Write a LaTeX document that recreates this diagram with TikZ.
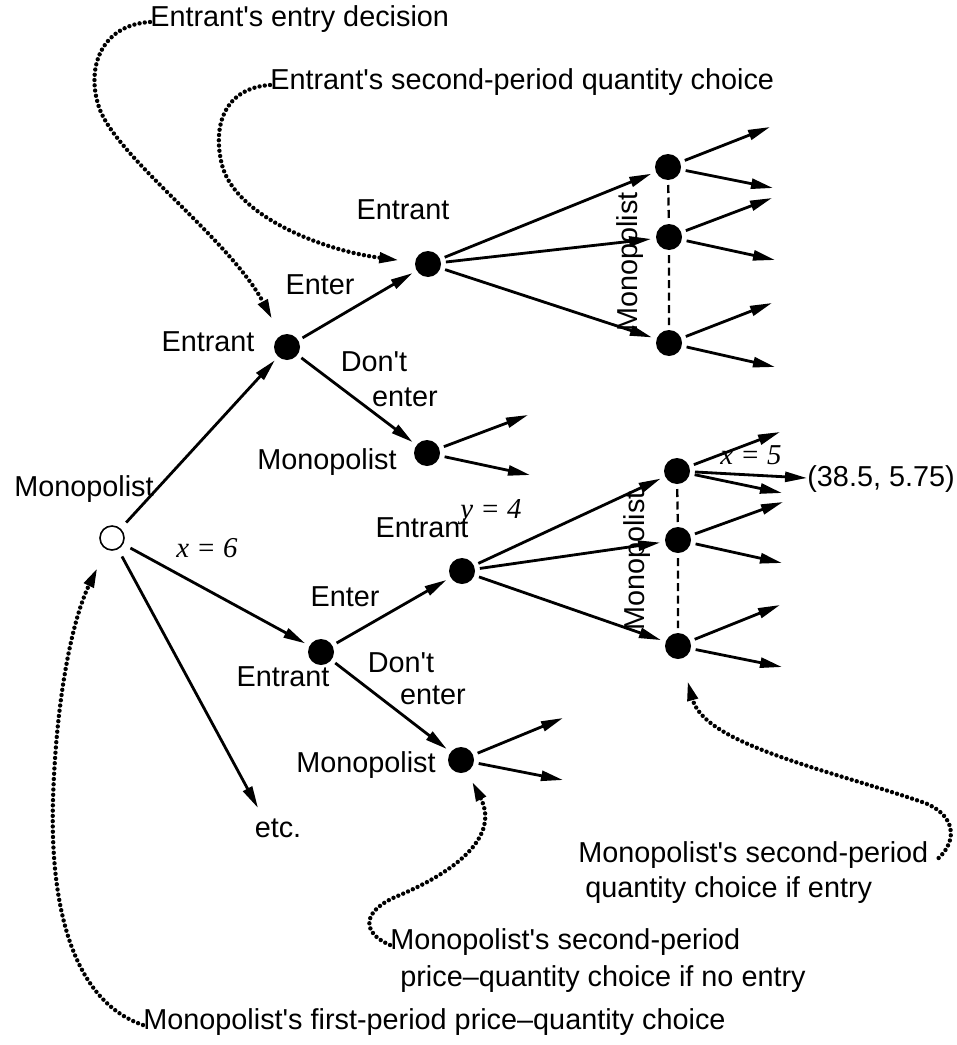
\documentclass[tikz,border=0pt]{standalone}
\usepackage{fontspec}
\setmainfont{Liberation Sans}[Ligatures=TeXOff]
\newfontfamily\timesfont{Liberation Serif}
\usetikzlibrary{arrows.meta}

\begin{document}
\begin{tikzpicture}[x=0.2mm, y=-0.2mm,
		lbl/.style={font=\fontsize{16.4pt}{19pt}\selectfont, inner sep=0pt, text height=0.72em, text depth=0.2em},
		dec/.style={circle, fill, minimum size=5.2mm, inner sep=0pt, outer sep=1mm},
		start/.style={circle, draw, line width=0.9pt, minimum size=4.8mm, inner sep=0pt, outer sep=1.8mm},
		move/.style={line width=1.6pt, -{Triangle[length=4.4mm,width=2mm]}},
		infoset/.style={line width=1.3pt, dash pattern=on 1.6mm off 0.9mm},
		note/.style={line width=2.5pt, line cap=round, dash pattern=on 0pt off 3pt, -{Triangle[length=4mm,width=2mm]}, shorten >=2.4mm}]
	\useasboundingbox (0,0) rectangle (957,1045);

	% decision nodes
	\node[start] (m0) at (112,538) {};
	\node[dec] (e1) at (287,347) {};
	\node[dec] (e2) at (428,264) {};
	\node[dec] (m1) at (427,453) {};
	\node[dec] (t1) at (668,167) {};
	\node[dec] (t2) at (669,237) {};
	\node[dec] (t3) at (669,343) {};
	\node[dec] (e3) at (321,652) {};
	\node[dec] (e4) at (462,571) {};
	\node[dec] (m2) at (461,760) {};
	\node[dec] (b1) at (677,471) {};
	\node[dec] (b2) at (678,540) {};
	\node[dec] (b3) at (678,646) {};

	% moves
	\draw[move] (m0) -- (e1);
	\draw[move] (m0) -- (e3);
	\draw[move] (e1) -- (e2);
	\draw[move] (e1) -- (m1);
	\draw[move] (e3) -- (e4);
	\draw[move] (e3) -- (m2);
	\foreach \n in {t1,t2,t3} \draw[move] (e2) -- (\n);
	\foreach \n in {b1,b2,b3} \draw[move] (e4) -- (\n);
	\draw[infoset] (t1) -- (t2) -- (t3);
	\draw[infoset] (b1) -- (b2) -- (b3);

	% loose ends
	\foreach \src/\tx/\ty [count=\i] in {m0/258/808, m1/528/415, m1/530/475, m2/563/718, m2/563/780,
			t1/770/127, t1/773/188, t2/772/198, t2/775/260, t3/772/303, t3/775/367,
			b1/780/432, b1/782/493, b2/783/502, b2/782/563, b3/780/605, b3/782/667} {
		\coordinate (end\i) at (\tx,\ty);
		\draw[move] (\src) -- (end\i);
	}
	\node[lbl, anchor=west] (pay) at (807,482) {(38.5, 5.75)};
	\draw[move] (b1) -- (pay);

	% players and actions
	\node[lbl] (m0lbl) at (84,492) {Monopolist};
	\node[lbl] (e1lbl) at (208,347) {Entrant};
	\node[lbl] (e2lbl) at (403,215) {Entrant};
	\node[lbl] (m1lbl) at (327,465) {Monopolist};
	\node[lbl] (in1) at (320,290) {Enter};
	\node[lbl] (out1a) at (374,367) {Don't};
	\node[lbl] (out1b) at (405,402) {enter};
	\node[lbl] (x6) at (207,553) {\timesfont\itshape x = 6};
	\node[lbl] (e3lbl) at (283,682) {Entrant};
	\node[lbl] (e4lbl) at (422,533) {Entrant};
	\node[lbl] (y4) at (491,514) {\timesfont\itshape y = 4};
	\node[lbl] (m2lbl) at (366,768) {Monopolist};
	\node[lbl] (in2) at (345,602) {Enter};
	\node[lbl] (out2a) at (401,668) {Don't};
	\node[lbl] (out2b) at (433,700) {enter};
	\node[lbl] (etc) at (278,833) {etc.};
	\node[lbl, rotate=90] (tlbl) at (633,262) {Monopolist};
	\node[lbl, rotate=90] (blbl) at (640,561) {Monopolist};
	\node[lbl] (x5) at (751,460) {\timesfont\itshape x = 5};

	% explanations
	\node[lbl, anchor=west] (entry) at (150,22) {Entrant's entry decision};
	\node[lbl, anchor=west] (secq) at (270,85) {Entrant's second-period quantity choice};
	\node[lbl, anchor=west] (eq1) at (578,858) {Monopolist's second-period};
	\node[lbl, anchor=west] (eq2) at (585,893) {quantity choice if entry};
	\node[lbl, anchor=west] (nq1) at (390,945) {Monopolist's second-period};
	\node[lbl, anchor=west] (nq2) at (400,982) {price–quantity choice if no entry};
	\node[lbl, anchor=west] (firstq) at (143,1025) {Monopolist's first-period price–quantity choice};

	\draw[note, shorten >=2.7mm] (entry.west) .. controls (100,25) and (85,70) .. (100,110) .. controls (120,160) and (230,240) .. (e1);
	\draw[note, shorten >=2.2mm] (secq.west) .. controls (225,88) and (212,125) .. (222,165) .. controls (235,215) and (320,250) .. (e2);
	\draw[note] (firstq.west) .. controls (70,1000) and (50,900) .. (53,800) .. controls (56,700) and (72,620) .. (m0);
	\draw[note, shorten >=1.2mm] (nq1.west) .. controls (360,932) and (362,910) .. (400,895) .. controls (470,865) and (497,830) .. (m2);
	\draw[note, shorten >=3.6mm] ([xshift=2mm]eq1.east) .. controls (958,840) and (955,815) .. (925,803) .. controls (830,770) and (705,745) .. (b3);
\end{tikzpicture}
\end{document}
